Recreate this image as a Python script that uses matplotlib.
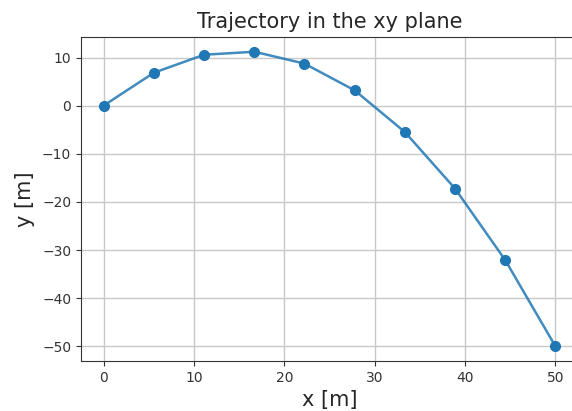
import matplotlib
matplotlib.use("Agg")
import matplotlib.pyplot as plt

x_vals = [0.0, 5.56, 11.11, 16.67, 22.22, 27.78, 33.33, 38.89, 44.44, 50.0]
y_vals = [0.0, 6.83, 10.57, 11.2, 8.74, 3.18, -5.47, -17.23, -32.08, -50.0]
x_ticks = [0, 10, 20, 30, 40, 50]
y_ticks = [10, 0, -10, -20, -30, -40, -50]

fig = plt.figure(figsize=(5.72, 4.11), dpi=100)
ax = fig.add_axes([81/572, 50/411, 497/572, 324/411])
ax.plot(x_vals, y_vals, '-', color='#1f77b4', linewidth=1.8, alpha=0.85)
ax.plot(x_vals, y_vals, 'o', color='#1f77b4', markersize=7)
ax.set_xlim(-2.5, 52.5)
ax.set_ylim(-53.06, 14.26)
ax.set_xticks(x_ticks)
ax.set_yticks(y_ticks)
ax.grid(True, color='#c8c8c8', linewidth=1.0)
ax.tick_params(labelsize=10, colors='#333333')
for s in ax.spines.values():
    s.set_color('#333333')
ax.set_title('Trajectory in the xy plane', fontsize=15, color='#262626', pad=6.5)
ax.set_xlabel('x [m]', fontsize=15, color='#262626')
ax.set_ylabel('y [m]', fontsize=15, color='#262626', labelpad=5)
fig.savefig('out.png', dpi=100)
